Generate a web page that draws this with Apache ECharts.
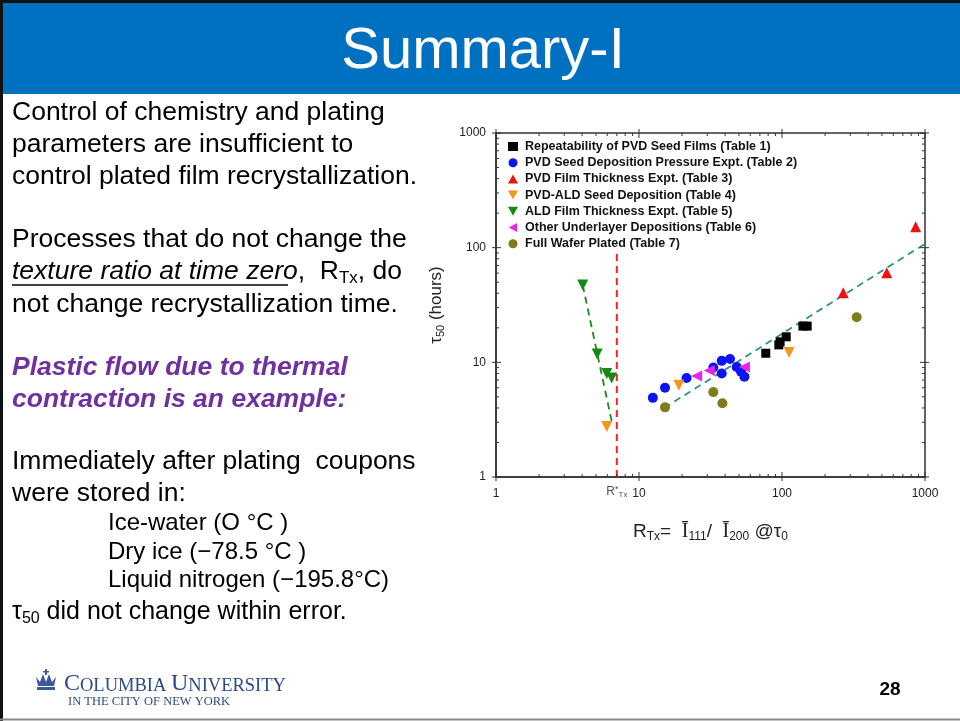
<!DOCTYPE html>
<html><head><meta charset="utf-8">
<script src="https://cdn.jsdelivr.net/npm/echarts@6/dist/echarts.min.js"></script>
<style>html,body{margin:0;padding:0;background:#fff}#c{width:960px;height:721px}</style>
</head><body><div id="c"></div>
<script>
// ---- data ----
const seriesNames = [
  'Repeatability of PVD Seed Films (Table 1)',
  'PVD Seed Deposition Pressure Expt. (Table 2)',
  'PVD Film Thickness Expt. (Table 3)',
  'PVD-ALD Seed Deposition (Table 4)',
  'ALD Film Thickness Expt. (Table 5)',
  'Other Underlayer Depositions (Table 6)',
  'Full Wafer Plated (Table 7)'
];
const table1 = [[77,12.0],[95,14.2],[97,15.1],[107,16.7],[140,20.7],[150,20.7]];
const table2 = [[12.5,4.9],[15.2,6.0],[21.5,7.3],[33.1,9.0],[37.9,10.3],[43.3,10.7],[37.9,8.0],[48.2,9.1],[51.7,8.3],[54.6,7.5]];
const table3 = [[268,40.4],[540,60.4],[861,152]];
const table4 = [[5.95,2.75],[19.0,6.3],[112,12.2]];
const table5 = [[4.04,47.2],[5.1,11.8],[5.95,8.0],[6.44,7.3]];
const table6 = [[25.3,7.6],[31.0,8.5],[54.6,9.1]];
const table7 = [[15.2,4.05],[33.1,5.5],[38.3,4.4],[333,24.7]];
const fitLine = [[15,4.0],[1000,108]];
const aldFitLine = [[4.04,47.2],[6.5,2.9]];
const rStarLine = [[7,1],[7,90]];
const rStarLabelPoint = [[7,1]];
const xTickLabels = ['1','10','100','1000'];
const yTickLabels = ['1','10','100','1000'];
const majorTickValues = [1,10,100,1000];
const minorTickValues = [2,3,4,5,6,7,8,9,20,30,40,50,60,70,80,90,200,300,400,500,600,700,800,900];

// ---- styles ----
const FF = '"Liberation Sans", Arial, sans-serif';
const SERIF = '"Liberation Serif", "Times New Roman", serif';
const colors = ['#000000','#0a14f0','#f01212','#f7941d','#148a14','#f020f0','#7f7c1c'];
const symbols = ['rect','circle','triangle','path://M0,0L10,0L5,9Z','path://M0,0L10,0L5,9Z','path://M0,5L9,0L9,10Z','circle'];
const sizes = [9,10,11,11,11,11,10];
const tables = [table1,table2,table3,table4,table5,table6,table7];

// tick items: [value, axisKind(0=x,1=y), inLen, outLen, dummy]
const tickData = [];
majorTickValues.forEach(v => { tickData.push([v,0,5,4,10]); tickData.push([v,1,5,4,10]); });
minorTickValues.forEach(v => { tickData.push([v,0,3,0,10]); tickData.push([v,1,3,0,10]); });

const series = tables.map((d,i) => ({
  name: seriesNames[i], type: 'scatter', data: d, symbol: symbols[i], symbolSize: sizes[i],
  itemStyle: {color: colors[i], opacity: 1}, z: 5
}));
series.push({type:'line', data: fitLine, symbol:'none', silent:true,
  lineStyle:{color:'#2e8f8f', width:1.8, type:[7,5]}, z:3});
series.push({type:'line', data: aldFitLine, symbol:'none', silent:true,
  lineStyle:{color:'#1d8a1d', width:1.8, type:[7,5]}, z:3});
series.push({type:'line', data: rStarLine, symbol:'none', silent:true,
  lineStyle:{color:'#ff2424', width:2, type:[7,5]}, z:3});
series.push({type:'scatter', data: rStarLabelPoint, symbolSize: 0, silent:true,
  label:{show:true, position:'bottom', distance: 8,
    formatter:'{r|R}{s|*}{b|Tx}',
    rich:{
      r:{fontFamily:FF, fontSize:12, color:'#222', lineHeight:14, verticalAlign:'middle'},
      s:{fontFamily:FF, fontSize:9, color:'#222', lineHeight:14, verticalAlign:'top'},
      b:{fontFamily:FF, fontSize:8, color:'#222', lineHeight:8, verticalAlign:'bottom'}
    }}});
series.push({type:'custom', data: tickData, encode:{x:0, y:4}, clip:false, silent:true, z:10,
  renderItem: function(params, api){
    const v = api.value(0), kind = api.value(1), inL = api.value(2), outL = api.value(3);
    const st = {stroke:'#333', lineWidth:1};
    if (kind === 0) {
      const b = api.coord([v,1]), t = api.coord([v,1000]);
      return {type:'group', children:[
        {type:'line', shape:{x1:b[0], y1:b[1]-inL, x2:b[0], y2:b[1]+outL}, style:st},
        {type:'line', shape:{x1:t[0], y1:t[1]+inL, x2:t[0], y2:t[1]-outL}, style:st}
      ]};
    } else {
      const l = api.coord([1,v]), r = api.coord([1000,v]);
      return {type:'group', children:[
        {type:'line', shape:{x1:l[0]-outL, y1:l[1], x2:l[0]+inL, y2:l[1]}, style:st},
        {type:'line', shape:{x1:r[0]-inL, y1:r[1], x2:r[0]+outL, y2:r[1]}, style:st}
      ]};
    }
  }});

// ---- slide text ----
const T = 26.5;
function bodyText(x, y, text){
  return {type:'text', x:x, y:y, silent:true, style:{text:text, fontFamily:FF, fontSize:T, fill:'#000', verticalAlign:'middle'}};
}
const subRich = {
  n:{fontFamily:FF, fontSize:T, lineHeight:30, fill:'#000'},
  i:{fontFamily:FF, fontSize:T, fontStyle:'italic', lineHeight:30, fill:'#000'},
  sub:{fontFamily:FF, fontSize:17, lineHeight:12, verticalAlign:'bottom', fill:'#000'}
};
const purple = '#7030a0';
const logoBlue = '#2b4a8a';
const graphics = [
  {type:'rect', shape:{x:3, y:3, width:957, height:91}, style:{fill:'#0070c0'}, silent:true},
  {type:'text', x:483, y:52, silent:true, style:{text:'Summary-I', fontFamily:FF, fontSize:58, fill:'#fff', align:'center', verticalAlign:'middle'}},
  bodyText(12,113,'Control of chemistry and plating'),
  bodyText(12,145,'parameters are insufficient to'),
  bodyText(12,177,'control plated film recrystallization.'),
  bodyText(12,240,'Processes that do not change the'),
  {type:'text', x:12, y:272, silent:true, style:{text:'{i|texture ratio at time zero}{n|,  R}{sub|Tx}{n|, do}', rich:subRich, verticalAlign:'middle'}},
  {type:'line', shape:{x1:12, y1:285, x2:288, y2:285}, style:{stroke:'#000', lineWidth:1.5}, silent:true},
  bodyText(12,305,'not change recrystallization time.'),
  {type:'text', x:12, y:368, silent:true, style:{text:'Plastic flow due to thermal', fontFamily:FF, fontSize:T, fontWeight:'bold', fontStyle:'italic', fill:purple, verticalAlign:'middle'}},
  {type:'text', x:12, y:400, silent:true, style:{text:'contraction is an example:', fontFamily:FF, fontSize:T, fontWeight:'bold', fontStyle:'italic', fill:purple, verticalAlign:'middle'}},
  bodyText(12,462,'Immediately after plating  coupons'),
  bodyText(12,494,'were stored in:'),
  {type:'text', x:108, y:523, silent:true, style:{text:'Ice-water (O °C )', fontFamily:FF, fontSize:24, fill:'#000', verticalAlign:'middle'}},
  {type:'text', x:108, y:552, silent:true, style:{text:'Dry ice (\u221278.5 °C )', fontFamily:FF, fontSize:24, fill:'#000', verticalAlign:'middle'}},
  {type:'text', x:108, y:580, silent:true, style:{text:'Liquid nitrogen (\u2212195.8°C)', fontFamily:FF, fontSize:24, fill:'#000', verticalAlign:'middle'}},
  {type:'text', x:12, y:612, silent:true, style:{text:'{n|\u03c4}{sub|50}{n| did not change within error.}', rich:{
    n:{fontFamily:FF, fontSize:25, lineHeight:30, fill:'#000'},
    sub:{fontFamily:FF, fontSize:16, lineHeight:12, verticalAlign:'bottom', fill:'#000'}}, verticalAlign:'middle'}},
  // Columbia logo
  {type:'group', x:36, y:673, silent:true, children:[
    {type:'polygon', shape:{points:[[0,4],[4,9],[7,1],[10,9],[13,1],[16,9],[20,4],[18,13],[2,13]]}, style:{fill:'#3a5a9a'}},
    {type:'rect', shape:{x:1, y:14, width:18, height:3}, style:{fill:'#3a5a9a'}},
    {type:'rect', shape:{x:9, y:-4, width:2, height:6}, style:{fill:'#3a5a9a'}},
    {type:'rect', shape:{x:7, y:-2, width:6, height:1.5}, style:{fill:'#3a5a9a'}}
  ]},
  {type:'text', x:64, y:683, silent:true, style:{text:'{b|C}{s|OLUMBIA }{b|U}{s|NIVERSITY}', verticalAlign:'middle', rich:{
    b:{fontFamily:SERIF, fontSize:24, fill:logoBlue, lineHeight:26, verticalAlign:'bottom'},
    s:{fontFamily:SERIF, fontSize:18.5, fill:logoBlue, lineHeight:21, verticalAlign:'bottom'}}}},
  {type:'text', x:68, y:702, silent:true, style:{text:'IN THE CITY OF NEW YORK', fontFamily:SERIF, fontSize:12.5, fill:logoBlue, verticalAlign:'middle'}},
  {type:'text', x:890, y:690, silent:true, style:{text:'28', fontFamily:FF, fontSize:19, fontWeight:'bold', fill:'#000', align:'center', verticalAlign:'middle'}},
  // slide border
  {type:'line', shape:{x1:1.5, y1:0, x2:1.5, y2:721}, style:{stroke:'#111', lineWidth:3}, silent:true},
  {type:'line', shape:{x1:0, y1:1.5, x2:960, y2:1.5}, style:{stroke:'#111', lineWidth:3}, silent:true},
  {type:'line', shape:{x1:0, y1:719.5, x2:960, y2:719.5}, style:{stroke:'#888', lineWidth:2}, silent:true}
];

const chart = echarts.init(document.getElementById('c'), null, {renderer:'canvas'});
chart.setOption({
  backgroundColor:'#ffffff',
  animation:false,
  grid:{left:496, right:35, top:133, bottom:244, show:true, borderColor:'#333', borderWidth:1.5, backgroundColor:'transparent'},
  legend:{
    orient:'vertical', left:503, top:135, itemWidth:10, itemHeight:9, itemGap:3.2,
    data: seriesNames, selectedMode:false,
    textStyle:{fontFamily:FF, fontWeight:'bold', fontSize:12.5, color:'#111', lineHeight:13, padding:[0,0,0,2]}
  },
  xAxis:{
    type:'log', logBase:10, min:1, max:1000,
    axisLine:{show:true, lineStyle:{color:'#333', width:1.5}},
    axisTick:{show:false}, splitLine:{show:false},
    axisLabel:{margin:11, fontFamily:FF, fontSize:12, color:'#222',
      formatter: function(v){ const i = majorTickValues.indexOf(Math.round(v)); return i>=0 ? xTickLabels[i] : ''; }},
    name:'{r|R}{sub|Tx}{r|=  }{i|\u012a}{sub|111}{r|/  }{i|\u012a}{sub|200}{r| @\u03c4}{sub|0}',
    nameLocation:'middle', nameGap:44,
    nameTextStyle:{rich:{
      r:{fontFamily:FF, fontSize:19, color:'#222', lineHeight:22},
      i:{fontFamily:SERIF, fontSize:20, color:'#222', lineHeight:22},
      sub:{fontFamily:FF, fontSize:12, color:'#222', lineHeight:10, verticalAlign:'bottom'}
    }}
  },
  yAxis:{
    type:'log', logBase:10, min:1, max:1000,
    axisLine:{show:true, lineStyle:{color:'#333', width:1.5}},
    axisTick:{show:false}, splitLine:{show:false},
    axisLabel:{margin:10, fontFamily:FF, fontSize:12, color:'#222',
      formatter: function(v){ const i = majorTickValues.indexOf(Math.round(v)); return i>=0 ? yTickLabels[i] : ''; }},
    name:'{t|\u03c4}{sub|50}{t| (hours)}', nameLocation:'middle', nameGap:50, nameRotate:90,
    nameTextStyle:{rich:{
      t:{fontFamily:FF, fontSize:17, color:'#222', lineHeight:20},
      sub:{fontFamily:FF, fontSize:11, color:'#222', lineHeight:8, verticalAlign:'bottom'}
    }}
  },
  series: series,
  graphic: graphics
});
</script></body></html>
